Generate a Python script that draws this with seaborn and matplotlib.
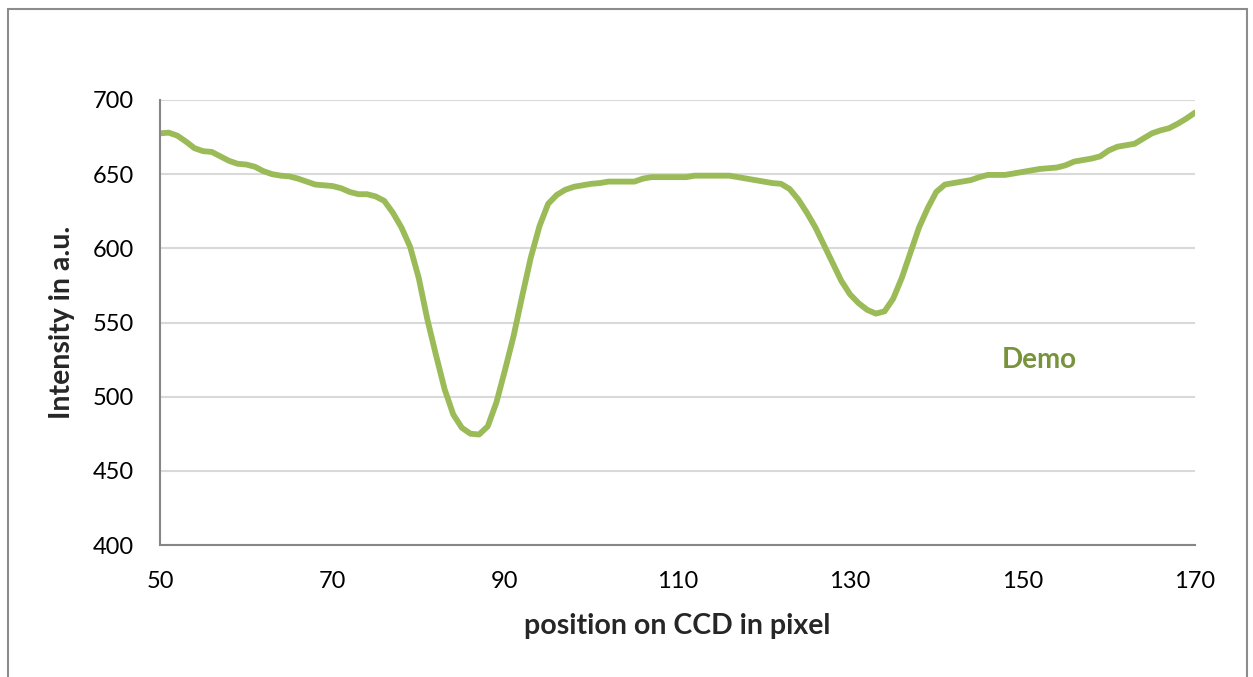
"""
CCD intensity profile (Demo)
"""

import pandas as pd
import matplotlib.pyplot as plt
from matplotlib.patches import Rectangle
import seaborn as sns

# ----------------- Data -----------------
positions = list(range(50, 171))
intensity = [
    677.5, 678, 676, 672, 667.5, 665.5, 665, 662, 659, 657,          # 50-59
    656.5, 655, 652, 650, 649, 648.5, 647, 645, 643, 642.5,          # 60-69
    642, 640.5, 638, 636.5, 636.5, 635, 632, 624, 614, 601,          # 70-79
    580, 552, 528, 505, 488, 479, 475, 474.5, 480, 496,              # 80-89
    518, 541, 568, 594, 615, 630, 636, 639.5, 641.5, 642.5,          # 90-99
    643.5, 644, 645, 645, 645, 645, 647, 648, 648, 648,              # 100-109
    648, 648, 649, 649, 649, 649, 649, 648, 647, 646,                # 110-119
    645, 644, 643.5, 640, 633, 624, 614, 602, 590, 578,              # 120-129
    569, 563, 558.5, 556, 557.5, 566, 580, 597, 614, 627,            # 130-139
    638, 643, 644, 645, 646, 648, 649.5, 649.5, 649.5, 650.5,        # 140-149
    651.5, 652.5, 653.5, 654, 654.5, 656, 658.5, 659.5, 660.5, 662,  # 150-159
    666, 668.5, 669.5, 670.5, 674, 677.5, 679.5, 681, 684, 687.5,    # 160-169
    691.5,                                                           # 170
]
x_ticks = [50, 70, 90, 110, 130, 150, 170]
y_ticks = [400, 450, 500, 550, 600, 650, 700]
series_name = "Demo"

df = pd.DataFrame({"position": positions, "intensity": intensity})

# ----------------- Style -----------------
sns.set_style("white")
plt.rcParams["font.family"] = ["Lato", "DejaVu Sans"]

line_color = "#9BBB59"
label_color = "#77933C"
axis_color = "#868686"
grid_color = "#D9D9D9"

fig = plt.figure(figsize=(12.53, 6.77), dpi=100)
ax = fig.add_axes([160 / 1253, 1 - 545 / 677, 1035 / 1253, 445 / 677])

sns.lineplot(data=df, x="position", y="intensity", ax=ax,
             color=line_color, linewidth=4.2,
             solid_capstyle="round", solid_joinstyle="round")

ax.set_xlim(50, 170)
ax.set_ylim(400, 700)
ax.set_xticks(x_ticks)
ax.set_yticks(y_ticks)
ax.yaxis.grid(True, color=grid_color, linewidth=1.5)
ax.set_axisbelow(True)

for side in ["top", "right"]:
    ax.spines[side].set_visible(False)
for side in ["left", "bottom"]:
    ax.spines[side].set_color(axis_color)
    ax.spines[side].set_linewidth(1.5)

ax.tick_params(axis="both", direction="out", length=6.5, width=1.5,
               color=axis_color, labelsize=17, labelcolor="black")
ax.tick_params(axis="x", pad=12)
ax.tick_params(axis="y", pad=12)

ax.set_xlabel("position on CCD in pixel", fontsize=20.5, fontweight="bold", labelpad=15)
ax.set_ylabel("Intensity in a.u.", fontsize=20.5, fontweight="bold", labelpad=13)

ax.text(152, 525, series_name, color=label_color, fontsize=20,
        fontweight="bold", ha="center", va="center")

# chart frame
fig.patches.append(Rectangle((8 / 1253, -0.05), 1239 / 1253, 1.05 - 9 / 677,
                             transform=fig.transFigure, fill=False,
                             edgecolor="#8C8C8C", linewidth=1.5))

fig.savefig("out.png", dpi=100)
plt.close(fig)
